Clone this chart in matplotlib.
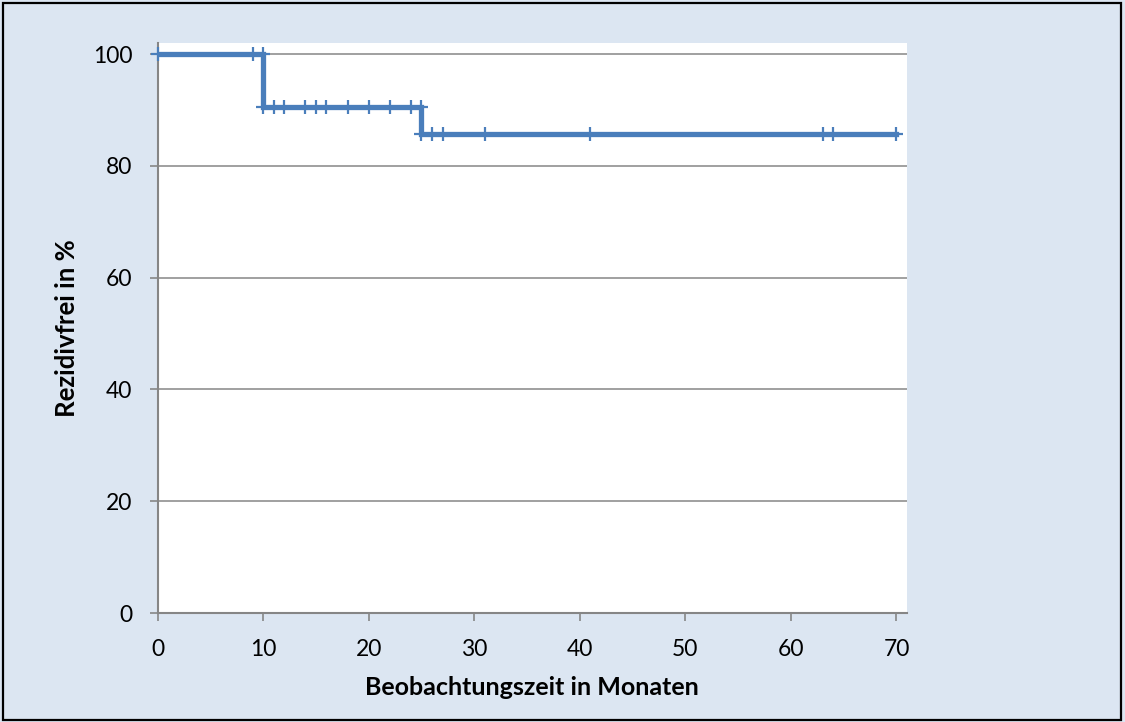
import numpy as np
import matplotlib
matplotlib.use("Agg")
import matplotlib.pyplot as plt
from matplotlib.patches import Rectangle

# Kaplan-Meier Kurve (Rezidivfreiheit)
step_x = [0, 10, 10, 25, 25, 70]
step_y = [100, 100, 90.5, 90.5, 85.7, 85.7]

# Zensierte Zeitpunkte / Marker
mark_x = [0, 9, 10, 10, 11, 12, 14, 15, 16, 18, 20, 22, 24, 25, 25, 26, 27, 31, 41, 63, 64, 70]
mark_y = [100, 100, 100, 90.5, 90.5, 90.5, 90.5, 90.5, 90.5, 90.5, 90.5, 90.5, 90.5, 90.5,
          85.7, 85.7, 85.7, 85.7, 85.7, 85.7, 85.7, 85.7]

x_ticks = [0, 10, 20, 30, 40, 50, 60, 70]
y_ticks = [0, 20, 40, 60, 80, 100]

blue = "#4A7EBB"
grey = "#868686"
bg = "#DCE6F2"

plt.rcParams['font.family'] = ['Lato', 'DejaVu Sans']

fig = plt.figure(figsize=(11.25, 7.22), dpi=100)
fig.patch.set_facecolor(bg)
fig.patches.append(Rectangle((3 / 1125, 2 / 722), 1118 / 1125, 717 / 722, transform=fig.transFigure,
                             fill=False, edgecolor="black", linewidth=1.6, zorder=10))

ax = fig.add_axes([157.5 / 1125, 1 - 613 / 722, (907 - 157.5) / 1125, (613 - 43) / 722])
ax.set_facecolor("white")

ax.plot(step_x, step_y, color=blue, linewidth=3.8, solid_joinstyle="miter", zorder=3)
ax.plot(mark_x, mark_y, linestyle="none", marker="+", markersize=9.5, markeredgewidth=1.6,
        color=blue, zorder=4, clip_on=False)

ax.set_xlim(0, 71)
ax.set_ylim(0, 102)
ax.set_xticks(x_ticks)
ax.set_yticks(y_ticks)
ax.yaxis.grid(True, color=grey, linewidth=1.1)
ax.set_axisbelow(True)

for s in ["top", "right"]:
    ax.spines[s].set_visible(False)
for s in ["left", "bottom"]:
    ax.spines[s].set_color(grey)
    ax.spines[s].set_linewidth(1.5)

ax.tick_params(axis="both", direction="out", length=6, width=1.2, color=grey,
               labelsize=16.5, labelcolor="black")
ax.tick_params(axis="x", pad=13)
ax.tick_params(axis="y", pad=12)

ax.set_xlabel("Beobachtungszeit in Monaten", fontsize=18, fontweight="bold", labelpad=11)
ax.set_ylabel("Rezidivfrei in %", fontsize=18.5, fontweight="bold", labelpad=10)

fig.savefig("out.png", dpi=100, facecolor=bg)
